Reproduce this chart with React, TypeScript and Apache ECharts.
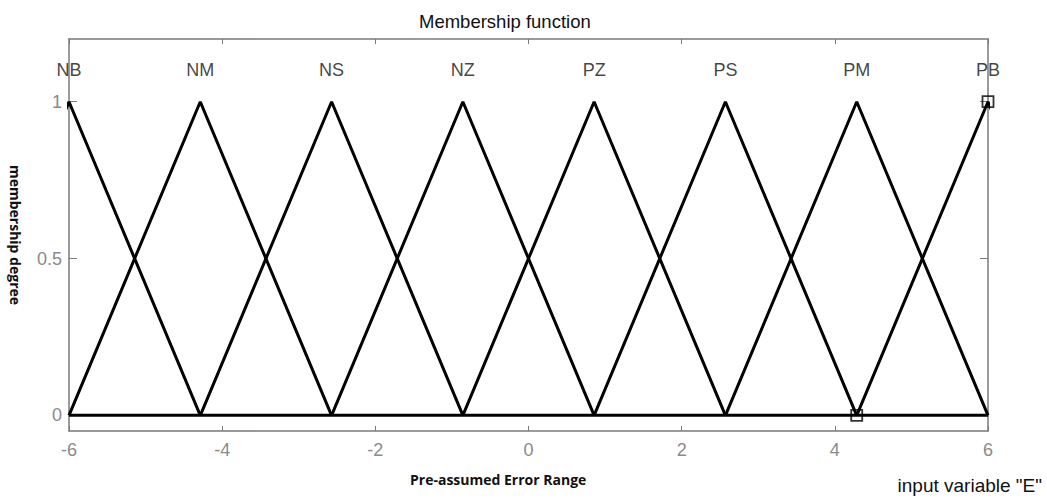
import React, { useEffect, useRef } from "react";
import * as echarts from "echarts";

// Fuzzy sets of the input variable E on [-6, 6]
const setNames = ["NB", "NM", "NS", "NZ", "PZ", "PS", "PM", "PB"];
const setCenters = [-6, -4.286, -2.571, -0.857, 0.857, 2.571, 4.286, 6];
const setHalfWidth = 1.714;
const xTicks = [-6, -4, -2, 0, 2, 4, 6];
const yTicks = [0, 0.5, 1];
const labelLevel = 1.1;
// Highlighted points on the curves (hollow squares)
const markedPoints: [number, number][] = [
  [6, 1],
  [4.286, 0],
];

export default function App() {
  const ref = useRef<HTMLDivElement>(null);

  useEffect(() => {
    if (!ref.current) return;
    const chart = echarts.init(ref.current, undefined, { renderer: "svg" });
    const font = "'Liberation Sans', Arial, sans-serif";
    const boldFont = "'Open Sans', sans-serif";
    const frame = "#7a7a7a";

    const triangles = setCenters.map((c, i) => ({
      type: "line",
      name: setNames[i],
      data: [
        [c - setHalfWidth, 0],
        [c, 1],
        [c + setHalfWidth, 0],
      ],
      symbol: "none",
      lineStyle: { color: "#000", width: 3 },
      clip: true,
      silent: true,
    }));

    const frameLine = { show: true, onZero: false, lineStyle: { color: frame, width: 1.5 } };

    const option: any = {
      animation: false,
      backgroundColor: "#fff",
      title: {
        text: "Membership function",
        left: 414,
        top: 7,
        textStyle: { fontFamily: font, fontSize: 18.5, fontWeight: "normal", color: "#111" },
      },
      grid: { left: 64, right: 59, top: 39, bottom: 68, containLabel: false },
      xAxis: [
        {
          type: "value",
          min: -6,
          max: 6,
          interval: 2,
          position: "bottom",
          axisLine: frameLine,
          axisTick: { show: true, inside: true, length: 5, lineStyle: { color: frame } },
          axisLabel: {
            fontFamily: font,
            fontSize: 18,
            color: "#8a8a8a",
            margin: 10,
            customValues: xTicks,
            formatter: (v: number) => String(v),
          },
          splitLine: { show: false },
        },
        {
          type: "value",
          min: -6,
          max: 6,
          interval: 2,
          position: "top",
          axisLine: frameLine,
          axisTick: { show: true, inside: true, length: 5, lineStyle: { color: frame } },
          axisLabel: { show: false },
          splitLine: { show: false },
        },
      ],
      yAxis: [
        {
          type: "value",
          min: -0.05,
          max: 1.2,
          position: "left",
          name: "membership degree",
          nameLocation: "middle",
          nameGap: 47,
          nameRotate: -90,
          nameTextStyle: { fontFamily: boldFont, fontWeight: "bold", fontSize: 14, color: "#111", padding: [0, 0, 12, 0] },
          axisLine: frameLine,
          axisTick: { show: true, inside: true, length: 8, customValues: yTicks, lineStyle: { color: frame } },
          axisLabel: {
            fontFamily: font,
            fontSize: 18,
            color: "#8a8a8a",
            margin: 7,
            customValues: yTicks,
            formatter: (v: number) => String(v),
          },
          splitLine: { show: false },
        },
        {
          type: "value",
          min: -0.05,
          max: 1.2,
          position: "right",
          axisLine: frameLine,
          axisTick: { show: true, inside: true, length: 8, customValues: yTicks, lineStyle: { color: frame } },
          axisLabel: { show: false },
          splitLine: { show: false },
        },
      ],
      graphic: [
        {
          type: "text",
          left: 410,
          top: 472,
          style: {
            text: "Pre-assumed Error Range",
            font: `bold 14px ${boldFont}`,
            fill: "#111",
          },
        },
        {
          type: "text",
          right: 5,
          top: 476,
          style: {
            text: 'input variable "E"',
            font: `19px ${font}`,
            fill: "#111",
          },
        },
      ],
      series: [
        {
          type: "line",
          name: "base",
          data: [
            [-6, 0],
            [6, 0],
          ],
          symbol: "none",
          lineStyle: { color: "#000", width: 3 },
          silent: true,
        },
        ...triangles,
        {
          type: "scatter",
          name: "labels",
          data: setCenters.map((c, i) => ({ value: [c, labelLevel], name: setNames[i] })),
          symbolSize: 1,
          itemStyle: { color: "rgba(0,0,0,0)" },
          label: {
            show: true,
            position: "inside",
            formatter: (p: any) => p.name,
            fontFamily: font,
            fontSize: 18,
            color: "#111",
          },
          silent: true,
        },
        {
          type: "scatter",
          name: "marks",
          data: markedPoints,
          symbol: "rect",
          symbolSize: 11,
          itemStyle: { color: "rgba(0,0,0,0)", borderColor: "#000", borderWidth: 1.8 },
          silent: true,
          z: 5,
        },
      ],
    };

    chart.setOption(option);
    return () => chart.dispose();
  }, []);

  return <div ref={ref} style={{ width: 1047, height: 499, position: "absolute", left: 0, top: 0 }} />;
}
